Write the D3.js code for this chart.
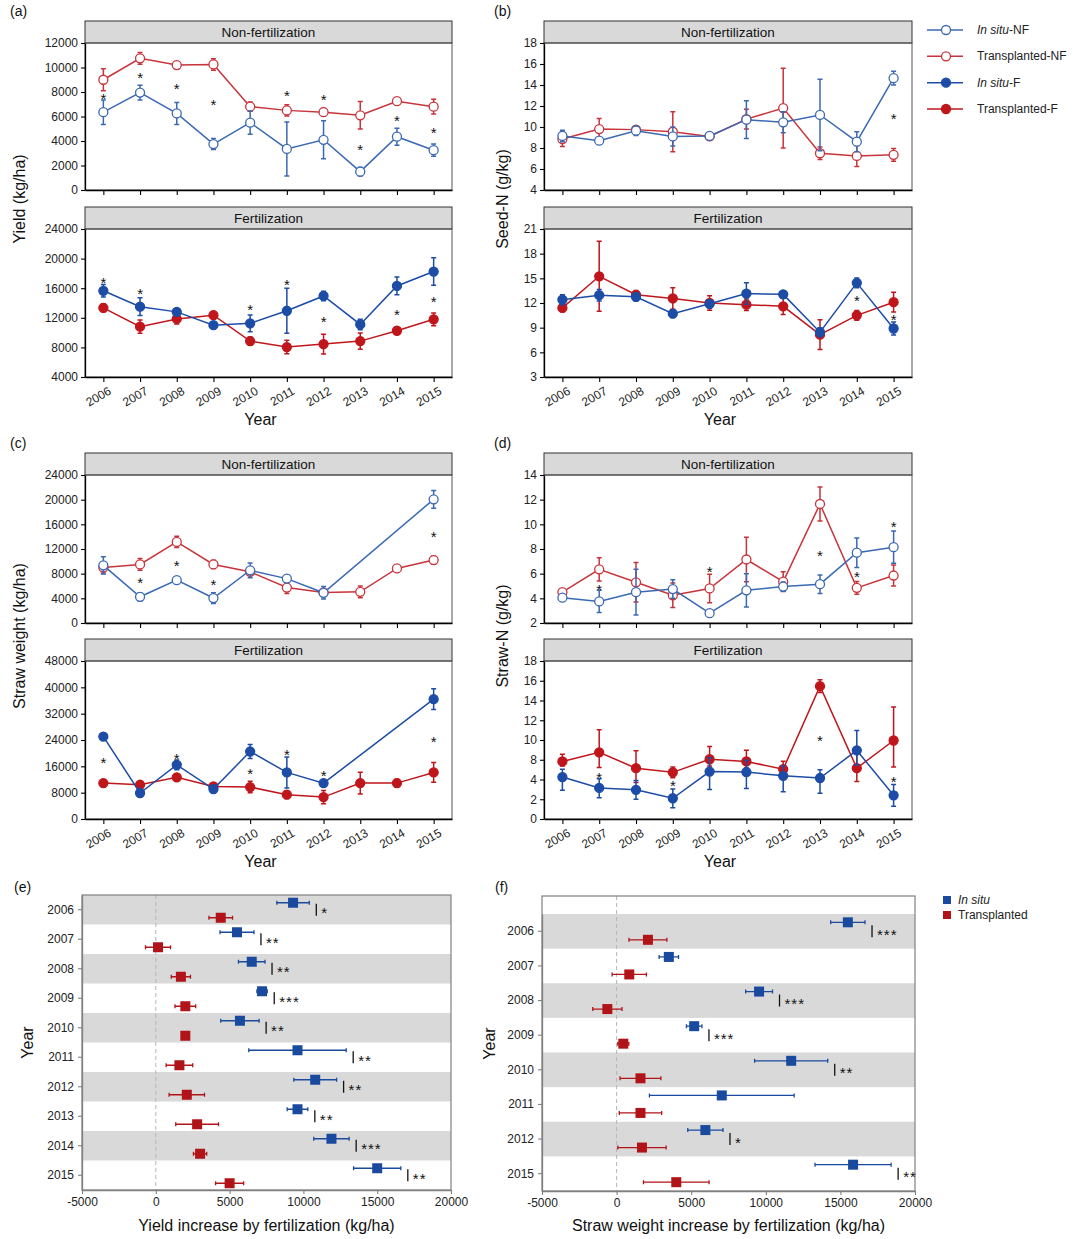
<!DOCTYPE html>
<html>
<head>
<meta charset="utf-8">
<script src="https://cdn.jsdelivr.net/npm/d3@7"></script>
<style>
body { margin: 0; background: #fff; }
svg { font-family: "Liberation Sans", Arial, sans-serif; }
</style>
</head>
<body>
<svg id="chart" width="1080" height="1239"></svg>
<script>
const years = [2006, 2007, 2008, 2009, 2010, 2011, 2012, 2013, 2014, 2015];

// (a) yield, kg/ha
const yieldInsituNF = [6350, 7950, 6250, 3750, 5500, 3350, 4100, 1500, 4350, 3250];
const yieldInsituNFse = [1000, 600, 900, 450, 950, 2200, 1550, 350, 700, 500];
const yieldTransNF = [9000, 10750, 10200, 10250, 6800, 6500, 6350, 6100, 7250, 6800];
const yieldTransNFse = [900, 480, 300, 470, 380, 450, 320, 1120, 290, 600];
const yieldStarsNF = [7700, 9350, 8450, 7200, null, 7950, 7600, 3550, 5850, 4900];
const yieldInsituF = [15650, 13500, 12800, 11000, 11250, 12950, 14950, 11100, 16300, 18250];
const yieldInsituFse = [850, 1200, 380, 320, 1130, 3050, 650, 700, 1200, 1850];
const yieldTransF = [13350, 10800, 11850, 12350, 8850, 8050, 8450, 8850, 10250, 11800];
const yieldTransFse = [540, 900, 680, 500, 540, 900, 1330, 1100, 340, 860];
const yieldStarsF = [17100, 15650, null, null, 13500, 16900, 11800, null, 12800, 14550];

// (b) seed N, g/kg
const seedInsituNF = [9.15, 8.7, 9.65, 9.1, 9.15, 10.7, 10.45, 11.15, 8.6, 14.65];
const seedInsituNFse = [0.55, 0.25, 0.45, 0.9, 0.3, 1.8, 1.0, 3.4, 0.95, 0.65];
const seedTransNF = [8.85, 9.8, 9.75, 9.55, 9.1, 10.75, 11.8, 7.5, 7.25, 7.35];
const seedTransNFse = [0.7, 1.0, 0.3, 1.9, 0.27, 0.95, 3.8, 0.6, 1.0, 0.6];
const seedStarsNF = [null, null, null, null, null, null, null, null, null, 11.05];
const seedInsituF = [12.4, 12.95, 12.75, 10.7, 11.9, 13.15, 13.05, 8.45, 14.45, 8.9];
const seedInsituFse = [0.6, 0.7, 0.5, 0.45, 0.5, 1.3, 0.37, 0.55, 0.6, 0.8];
const seedTransF = [11.4, 15.25, 13.0, 12.55, 12.0, 11.8, 11.6, 8.15, 10.5, 12.1];
const seedTransFse = [0.47, 4.25, 0.53, 1.3, 0.87, 0.7, 1.0, 1.8, 0.6, 1.2];
const seedStarsF = [null, null, null, null, null, null, null, null, 12.55, 10.3];

// (c) straw weight, kg/ha
const strawInsituNF = [9350, 4250, 6950, 4050, 8550, 7200, 4900, null, null, 20050];
const strawInsituNFse = [1400, 650, 550, 870, 1200, 600, 1000, null, null, 1450];
const strawTransNF = [9000, 9500, 13150, 9500, 8300, 5750, 4950, 5050, 8850, 10200];
const strawTransNFse = [950, 950, 920, 680, 540, 950, 400, 950, 380, 680];
const strawStarsNF = [null, 7050, 9650, 6650, null, null, null, null, null, 14500];
const strawInsituF = [25050, 7900, 16450, 9100, 20500, 14150, 10900, null, null, 36400];
const strawInsituFse = [500, 600, 1500, 700, 2100, 4700, 800, null, null, 3150];
const strawTransF = [10900, 10400, 12650, 9900, 9700, 7400, 6650, 10900, 10900, 14150];
const strawTransFse = [1000, 1000, 750, 1000, 1750, 1200, 2000, 3300, 1200, 3000];
const strawStarsF = [17800, null, 19200, null, 14450, 20500, 13950, null, null, 24350];

// (d) straw N, g/kg
const strawNInsituNF = [4.05, 3.75, 4.5, 4.75, 2.8, 4.65, 4.95, 5.15, 7.7, 8.15];
const strawNInsituNFse = [0.27, 0.9, 1.85, 0.75, 0.27, 1.35, 0.37, 0.75, 1.2, 1.3];
const strawNTransNF = [4.5, 6.35, 5.3, 4.25, 4.8, 7.15, 5.35, 11.65, 4.85, 5.85];
const strawNTransNFse = [0.25, 0.95, 1.6, 1.0, 1.15, 1.8, 0.8, 1.37, 0.52, 0.85];
const strawNStarsNF = [null, 4.95, null, null, 6.4, null, null, 7.65, 5.95, 10.05];
const strawNInsituF = [4.5, 3.15, 2.95, 2.1, 5.6, 5.5, 4.75, 4.3, 8.95, 2.4];
const strawNInsituFse = [1.6, 1.0, 0.95, 0.95, 2.6, 2.4, 2.0, 1.7, 2.0, 1.1];
const strawNTransF = [7.65, 8.75, 6.3, 5.45, 8.05, 7.65, 6.1, 15.45, 6.3, 9.95];
const strawNTransFse = [0.9, 2.3, 2.6, 1.1, 1.3, 1.3, 1.6, 0.65, 2.5, 3.4];
const strawNStarsF = [null, 4.95, null, 3.65, null, null, null, 10.2, null, 4.1];

// y tick labels
const yieldTicksNF = [0, 2000, 4000, 6000, 8000, 10000, 12000];
const yieldTicksF = [4000, 8000, 12000, 16000, 20000, 24000];
const seedTicksNF = [4, 6, 8, 10, 12, 14, 16, 18];
const seedTicksF = [3, 6, 9, 12, 15, 18, 21];
const strawTicksNF = [0, 4000, 8000, 12000, 16000, 20000, 24000];
const strawTicksF = [0, 8000, 16000, 24000, 32000, 40000, 48000];
const strawNTicksNF = [2, 4, 6, 8, 10, 12, 14];
const strawNTicksF = [0, 2, 4, 8, 10, 12, 14, 16, 18];   // the "6" is absent on the original axis

// (e) yield increase by fertilization, kg/ha
const yieldIncInsitu = [9300, 5500, 6500, 7200, 5700, 9600, 10800, 9600, 11900, 15000];
const yieldIncInsituErr = [1100, 1150, 900, 350, 1300, 3300, 1450, 700, 1200, 1600];
const yieldIncTrans = [4400, 150, 1700, 2000, 2000, 1600, 2100, 2800, 3000, 5000];
const yieldIncTransErr = [800, 850, 650, 700, 200, 900, 1200, 1450, 450, 950];
const yieldIncSig = ["*", "**", "**", "***", "**", "**", "**", "**", "***", "**"];

// (f) straw weight increase by fertilization, kg/ha
const strawIncYears = [2006, 2007, 2008, 2009, 2010, 2011, 2012, 2015];
const strawIncInsitu = [15500, 3500, 9550, 5200, 11700, 7050, 5950, 15850];
const strawIncInsituErr = [1150, 650, 900, 520, 2450, 4850, 1180, 2550];
const strawIncTrans = [2100, 850, -620, 450, 1600, 1600, 1700, 4000];
const strawIncTransErr = [1270, 1150, 980, 370, 1370, 1420, 1620, 2200];
const strawIncSig = ["***", "", "***", "***", "**", "", "*", "**"];

const incTicks = [-5000, 0, 5000, 10000, 15000, 20000];

const blueNF = "#3b69b3", redNF = "#c8343b", blueF = "#1c4ca6", redF = "#bf161c";
const sqBlue = "#1a4a9e", sqRed = "#b01418";

const svg = d3.select("#chart");

function styleAxis(a, col) {
    a.attr("font-family", null).attr("font-size", null);
    a.select(".domain").attr("stroke", col).attr("stroke-width", 1.3);
    a.selectAll(".tick line").attr("stroke", col).attr("stroke-width", 1.1);
    a.selectAll(".tick text").attr("font-size", 12).attr("fill", "#222");
}

// one faceted sub plot (strip on top, lines with error bars)
function subPanel(o) {
    let plotTop = o.top + 22;
    let plotBottom = plotTop + o.h;
    let right = o.left + o.w;
    let x = d3.scalePoint().domain(years).range([o.left, right]).padding(0.5);
    let pos = o.yPos || [0, 1];
    let y = d3.scaleLinear().domain(o.yDomain).range(pos.map(p => plotBottom - p * o.h));

    svg.append("rect")
        .attr("x", o.left).attr("y", o.top).attr("width", o.w).attr("height", 22)
        .attr("fill", "#d9d9d9").attr("stroke", "#333").attr("stroke-width", 1);
    svg.append("text")
        .attr("x", (o.left + right) / 2).attr("y", o.top + 16)
        .attr("text-anchor", "middle").attr("font-size", 13.5).attr("fill", "#111")
        .text(o.title);
    svg.append("rect")
        .attr("x", o.left).attr("y", plotTop).attr("width", o.w).attr("height", o.h)
        .attr("fill", "none").attr("stroke", "#555").attr("stroke-width", 1);

    let ya = svg.append("g").attr("transform", "translate(" + o.left + ",0)")
        .call(d3.axisLeft(y).tickValues(o.yTicks).tickSize(4).tickSizeOuter(0).tickPadding(3)
            .tickFormat(d => String(d)));
    let xa = svg.append("g").attr("transform", "translate(0," + plotBottom + ")")
        .call(d3.axisBottom(x).tickSize(5).tickSizeOuter(0)
            .tickFormat(o.xLabels ? (d => String(d)) : ""));
    styleAxis(ya, "#000");
    styleAxis(xa, "#000");
    if (o.xLabels) {
        xa.selectAll(".tick text")
            .attr("y", 0).attr("dy", "0.71em")
            .attr("transform", "translate(4,9) rotate(-30)")
            .style("text-anchor", "end");
    }

    o.series.forEach(s => {
        let pts = years.map((yr, i) => ({ yr: yr, v: s.mean[i], e: s.se[i] }))
            .filter(d => d.v != null);
        let g = svg.append("g");
        let line = d3.line().x(d => x(d.yr)).y(d => y(d.v));
        g.append("path").attr("d", line(pts))
            .attr("fill", "none").attr("stroke", s.color).attr("stroke-width", 1.5);
        g.selectAll(".eb").data(pts).enter().append("path")
            .attr("d", d => {
                let cx = x(d.yr), y1 = y(d.v - d.e), y2 = y(d.v + d.e);
                return "M" + cx + "," + y1 + "V" + y2 +
                    "M" + (cx - 2.5) + "," + y1 + "H" + (cx + 2.5) +
                    "M" + (cx - 2.5) + "," + y2 + "H" + (cx + 2.5);
            })
            .attr("fill", "none").attr("stroke", s.color).attr("stroke-width", 1.5);
        g.selectAll("circle").data(pts).enter().append("circle")
            .attr("cx", d => x(d.yr)).attr("cy", d => y(d.v)).attr("r", 4.5)
            .attr("fill", s.open ? "#fff" : s.color)
            .attr("stroke", s.color).attr("stroke-width", 1.3);
    });

    let stars = years.map((yr, i) => ({ yr: yr, v: o.stars[i] })).filter(d => d.v != null);
    svg.selectAll(null).data(stars).enter().append("text")
        .attr("x", d => x(d.yr)).attr("y", d => y(d.v) + 8)
        .attr("text-anchor", "middle").attr("font-size", 15).attr("fill", "#111")
        .text("*");
}

function label(txt, x, y, size, rot) {
    let t = svg.append("text").attr("font-size", size).attr("fill", "#111")
        .attr("text-anchor", "middle").text(txt);
    if (rot) t.attr("transform", "translate(" + x + "," + y + ") rotate(-90)");
    else t.attr("x", x).attr("y", y);
    return t;
}

function linePanel(p) {
    subPanel({
        left: p.left, top: p.top, w: p.w, h: p.h1, title: "Non-fertilization",
        yDomain: p.domNF, yTicks: p.ticksNF, xLabels: false, stars: p.starsNF,
        series: [
            { mean: p.transNF, se: p.transNFse, color: redNF, open: true },
            { mean: p.insituNF, se: p.insituNFse, color: blueNF, open: true }
        ]
    });
    subPanel({
        left: p.left, top: p.top2, w: p.w, h: p.h2, title: "Fertilization",
        yDomain: p.domF, yPos: p.posF, yTicks: p.ticksF, xLabels: true, stars: p.starsF,
        series: [
            { mean: p.transF, se: p.transFse, color: redF, open: false },
            { mean: p.insituF, se: p.insituFse, color: blueF, open: false }
        ]
    });
    label(p.letter, p.letterX, p.top - 5, 14).attr("text-anchor", "start");
    label(p.ytitle, p.titleX, (p.top + p.top2 + 22 + p.h2) / 2, 16, true);
    label("Year", p.left + p.w / 2 - 8, p.top2 + 22 + p.h2 + 48, 16);
}

linePanel({ letter: "(a)", letterX: 10, left: 85, w: 367, top: 21, h1: 147, top2: 207, h2: 148,
    titleX: 25, ytitle: "Yield (kg/ha)",
    domNF: [0, 12000], ticksNF: yieldTicksNF, domF: [4000, 24000], ticksF: yieldTicksF,
    insituNF: yieldInsituNF, insituNFse: yieldInsituNFse, transNF: yieldTransNF, transNFse: yieldTransNFse,
    insituF: yieldInsituF, insituFse: yieldInsituFse, transF: yieldTransF, transFse: yieldTransFse,
    starsNF: yieldStarsNF, starsF: yieldStarsF });

linePanel({ letter: "(b)", letterX: 494, left: 544, w: 368, top: 21, h1: 147, top2: 207, h2: 148,
    titleX: 508, ytitle: "Seed-N (g/kg)",
    domNF: [4, 18], ticksNF: seedTicksNF, domF: [3, 21], ticksF: seedTicksF,
    insituNF: seedInsituNF, insituNFse: seedInsituNFse, transNF: seedTransNF, transNFse: seedTransNFse,
    insituF: seedInsituF, insituFse: seedInsituFse, transF: seedTransF, transFse: seedTransFse,
    starsNF: seedStarsNF, starsF: seedStarsF });

linePanel({ letter: "(c)", letterX: 10, left: 85, w: 367, top: 453, h1: 148, top2: 639, h2: 158,
    titleX: 25, ytitle: "Straw weight (kg/ha)",
    domNF: [0, 24000], ticksNF: strawTicksNF, domF: [0, 48000], ticksF: strawTicksF,
    insituNF: strawInsituNF, insituNFse: strawInsituNFse, transNF: strawTransNF, transNFse: strawTransNFse,
    insituF: strawInsituF, insituFse: strawInsituFse, transF: strawTransF, transFse: strawTransFse,
    starsNF: strawStarsNF, starsF: strawStarsF });

linePanel({ letter: "(d)", letterX: 494, left: 544, w: 368, top: 453, h1: 148, top2: 639, h2: 158,
    titleX: 508, ytitle: "Straw-N (g/kg)",
    domNF: [2, 14], ticksNF: strawNTicksNF, domF: [0, 4, 8, 18], posF: [0, 4 / 16, 6 / 16, 1],
    ticksF: strawNTicksF,
    insituNF: strawNInsituNF, insituNFse: strawNInsituNFse, transNF: strawNTransNF, transNFse: strawNTransNFse,
    insituF: strawNInsituF, insituFse: strawNInsituFse, transF: strawNTransF, transFse: strawNTransFse,
    starsNF: strawNStarsNF, starsF: strawNStarsF });

// legend for the line panels
const legendItems = [
    { it: "In situ", rest: "-NF", color: blueNF, open: true },
    { it: "", rest: "Transplanted-NF", color: redNF, open: true },
    { it: "In situ", rest: "-F", color: blueF, open: false },
    { it: "", rest: "Transplanted-F", color: redF, open: false }
];
const legY = d3.scalePoint().domain(d3.range(legendItems.length)).range([30, 109]);
legendItems.forEach((d, i) => {
    let yy = legY(i);
    svg.append("line").attr("x1", 927).attr("x2", 963).attr("y1", yy).attr("y2", yy)
        .attr("stroke", d.color).attr("stroke-width", 1.5);
    svg.append("circle").attr("cx", 946).attr("cy", yy).attr("r", 4.5)
        .attr("fill", d.open ? "#fff" : d.color).attr("stroke", d.color).attr("stroke-width", 1.3);
    let t = svg.append("text").attr("x", 977).attr("y", yy + 4).attr("font-size", 12).attr("fill", "#222");
    if (d.it) t.append("tspan").attr("font-style", "italic").text(d.it);
    t.append("tspan").text(d.rest);
});

// forest-like panels (e) and (f)
function forest(o) {
    let right = o.left + o.w, bottom = o.top + o.h;
    let x = d3.scaleLinear().domain([-5000, 20000]).range([o.left, right]);
    let yb = d3.scaleBand().domain(o.years).range([o.bandTop, bottom]);

    svg.selectAll(null).data(o.years.filter((d, i) => i % 2 == 0)).enter().append("rect")
        .attr("x", o.left).attr("width", o.w)
        .attr("y", d => yb(d)).attr("height", yb.bandwidth())
        .attr("fill", "#d9d9d9");
    svg.append("line").attr("x1", x(0)).attr("x2", x(0)).attr("y1", o.top).attr("y2", bottom)
        .attr("stroke", "#b5b5b5").attr("stroke-width", 1).attr("stroke-dasharray", "4,3");
    svg.append("rect").attr("x", o.left).attr("y", o.top).attr("width", o.w).attr("height", o.h)
        .attr("fill", "none").attr("stroke", "#808080").attr("stroke-width", 1.2);

    let xa = svg.append("g").attr("transform", "translate(0," + bottom + ")")
        .call(d3.axisBottom(x).tickValues(incTicks).tickSize(4).tickSizeOuter(0).tickFormat(d => String(d)));
    let ya = svg.append("g").attr("transform", "translate(" + o.left + ",0)")
        .call(d3.axisLeft(yb).tickSize(4).tickSizeOuter(0).tickPadding(4));
    styleAxis(xa, "#808080");
    styleAxis(ya, "#808080");

    let rows = o.years.map((yr, i) => ({
        yr: yr, b: o.insitu[i], be: o.insituErr[i], r: o.trans[i], re: o.transErr[i], sig: o.sig[i]
    }));
    let groups = [
        { key: "r", err: "re", color: sqRed, off: o.offRed },
        { key: "b", err: "be", color: sqBlue, off: o.offBlue }
    ];
    groups.forEach(gr => {
        let g = svg.append("g");
        g.selectAll("path").data(rows).enter().append("path")
            .attr("d", d => {
                let cy = yb(d.yr) + yb.bandwidth() / 2 + gr.off;
                let x1 = x(d[gr.key] - d[gr.err]), x2 = x(d[gr.key] + d[gr.err]);
                return "M" + x1 + "," + cy + "H" + x2 +
                    "M" + x1 + "," + (cy - 2) + "V" + (cy + 2) +
                    "M" + x2 + "," + (cy - 2) + "V" + (cy + 2);
            })
            .attr("fill", "none").attr("stroke", gr.color).attr("stroke-width", 1.3);
        g.selectAll("rect").data(rows).enter().append("rect")
            .attr("x", d => x(d[gr.key]) - 5)
            .attr("y", d => yb(d.yr) + yb.bandwidth() / 2 + gr.off - 5)
            .attr("width", 10).attr("height", 10)
            .attr("fill", gr.color);
    });

    let sigRows = rows.filter(d => d.sig);
    svg.selectAll(null).data(sigRows).enter().append("line")
        .attr("x1", d => x(d.b + d.be) + 7).attr("x2", d => x(d.b + d.be) + 7)
        .attr("y1", d => yb(d.yr) + yb.bandwidth() / 2 - 6)
        .attr("y2", d => yb(d.yr) + yb.bandwidth() / 2 + 6)
        .attr("stroke", "#111").attr("stroke-width", 1.3);
    svg.selectAll(null).data(sigRows).enter().append("text")
        .attr("x", d => x(d.b + d.be) + 12)
        .attr("y", d => yb(d.yr) + yb.bandwidth() / 2 + 8.5)
        .attr("font-size", 15).attr("letter-spacing", 1).attr("fill", "#111")
        .text(d => d.sig);

    label(o.letter, o.letterX, 892, 14).attr("text-anchor", "start");
    label("Year", o.yearX, (o.top + bottom) / 2, 16, true);
    label(o.xtitle, (o.left + right) / 2, 1231, 16);
}

forest({ letter: "(e)", letterX: 14, yearX: 33, left: 82, top: 895, w: 369, h: 295, bandTop: 895,
    years: years, insitu: yieldIncInsitu, insituErr: yieldIncInsituErr,
    trans: yieldIncTrans, transErr: yieldIncTransErr, sig: yieldIncSig,
    offBlue: -7, offRed: 8, xtitle: "Yield increase by fertilization (kg/ha)" });

forest({ letter: "(f)", letterX: 495, yearX: 495, left: 542, top: 896, w: 373, h: 295, bandTop: 914,
    years: strawIncYears, insitu: strawIncInsitu, insituErr: strawIncInsituErr,
    trans: strawIncTrans, transErr: strawIncTransErr, sig: strawIncSig,
    offBlue: -9, offRed: 8.5, xtitle: "Straw weight increase by fertilization (kg/ha)" });

// legend for (f)
const incLegend = [{ name: "In situ", color: sqBlue, italic: true }, { name: "Transplanted", color: sqRed, italic: false }];
incLegend.forEach((d, i) => {
    let yy = 900 + i * 15;
    svg.append("rect").attr("x", 943).attr("y", yy - 4).attr("width", 8).attr("height", 8).attr("fill", d.color);
    svg.append("text").attr("x", 958).attr("y", yy + 4).attr("font-size", 12).attr("fill", "#222")
        .attr("font-style", d.italic ? "italic" : null).text(d.name);
});
</script>
</body>
</html>
